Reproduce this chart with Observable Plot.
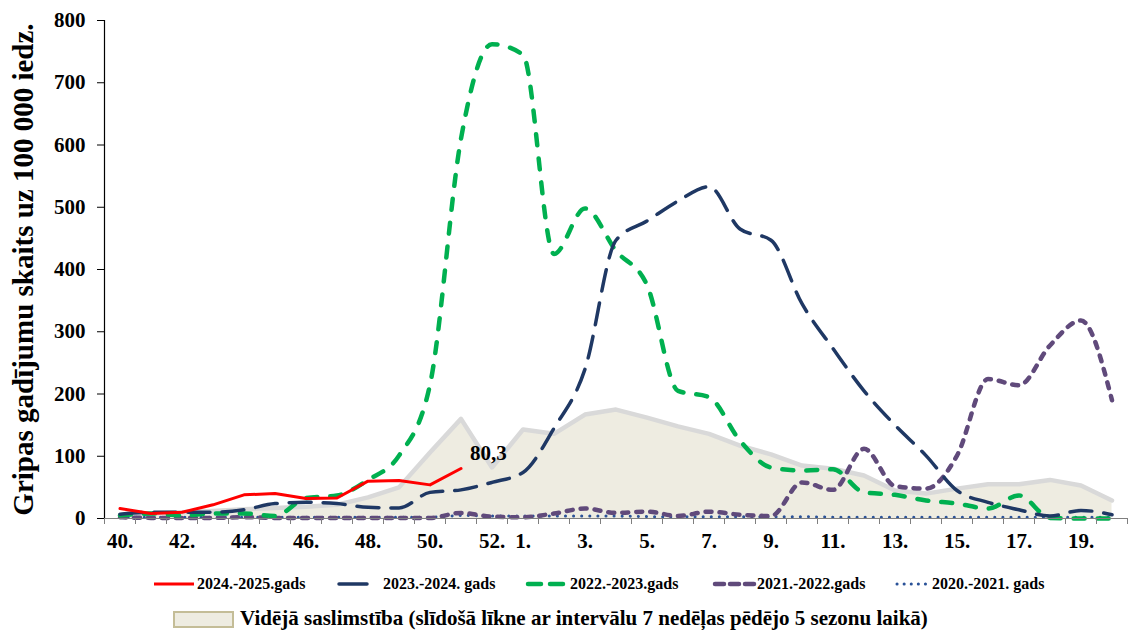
<!DOCTYPE html>
<html><head><meta charset="utf-8">
<script src="https://cdn.jsdelivr.net/npm/d3@7"></script>
<script src="https://cdn.jsdelivr.net/npm/@observablehq/plot@0.6"></script>
<style>
body{margin:0;background:#fff;}
#wrap{position:relative;width:1128px;height:630px;font-family:"Liberation Serif","Times New Roman",serif;font-weight:bold;color:#000;overflow:hidden;}
#chart{position:absolute;left:0;top:0;}
.lg{position:absolute;white-space:nowrap;line-height:1;}
</style></head><body>
<div id="wrap"><div id="chart"></div><div id="legend"></div></div>
<script>
// weeks of the season (index 0..32)
const weeks = [40,41,42,43,44,45,46,47,48,49,50,51,52,1,2,3,4,5,6,7,8,9,10,11,12,13,14,15,16,17,18,19,20];
const tickWeeks = [40,42,44,46,48,50,52,1,3,5,7,9,11,13,15,17,19];
const yTicks = [0,100,200,300,400,500,600,700,800];

const s2024_2025 = [16,8,10,22,38,40,32,33,60,61,54,80.3];
const s2023_2024 = [7,10,10,10,14,24,26,24,18,17,42,46,58,74,145,240,447,478,510,533,465,447,345,273,205,150,101,45,26,14,4,13,6];
const s2022_2023 = [5,8,5,8,8,4,33,37,62,101,215,610,762,745,425,498,430,375,205,195,125,82,77,79,42,38,29,24,16,37,1,0,0];
const s2021_2022 = [2,1,1,1,2,1,1,1,1,1,1,9,3,2,8,16,9,11,4,11,6,4,58,46,112,52,48,101,224,214,278,318,190];
const s2020_2021 = [2,2,2,2,2,2,2,2,2,2,2,5,4,4,4,4,4,3,3,3,3,3,3,2,2,2,2,2,2,2,2,2,2];
const avg5 = [5,8,10,12,15,17,19,22,34,50,106,160,82,143,136,167,175,162,148,136,117,103,85,80,69,45,40,48,55,55,62,53,29];

const labelValue = "80,3";
const legendNames = ["2024.-2025.gads","2023.-2024. gads","2022.-2023.gads","2021.-2022.gads","2020.-2021. gads"];
const avgName = "Vidējā saslimstība (slīdošā līkne ar intervālu 7 nedēļas pēdējo 5 sezonu laikā)";
const yTitle = "Gripas gadījumu skaits uz 100 000 iedz.";

const toRows = arr => arr.map((v,i)=>({i, v}));
const rAvg = toRows(avg5), r24 = toRows(s2024_2025), r23 = toRows(s2023_2024),
      r22 = toRows(s2022_2023), r21 = toRows(s2021_2022), r20 = toRows(s2020_2021);

const boundaries = d3.range(weeks.length + 1).map(k => k - 0.5);
const tickIdx = tickWeeks.map(w => weeks.indexOf(w));

const chart = Plot.plot({
  width: 1128, height: 560,
  marginTop: 20, marginBottom: 42, marginLeft: 104, marginRight: 1,
  style: {fontFamily: '"Liberation Serif","Times New Roman",serif', fontWeight: "bold", fontSize: "21px", color: "#000", background: "#fff", overflow: "visible"},
  x: {type: "linear", domain: [-0.5, weeks.length - 0.5], label: null},
  y: {domain: [0, 800]},
  marks: [
    Plot.areaY(rAvg, {x: "i", y: "v", fill: "#eeece1"}),
    Plot.lineY(rAvg, {x: "i", y: "v", stroke: "#d9d9d9", strokeWidth: 4.5}),
    Plot.lineY(r20, {x: "i", y: "v", stroke: "#2a5298", strokeWidth: 3, strokeDasharray: "0.1,8", strokeLinecap: "round"}),
    Plot.lineY(r21, {x: "i", y: "v", stroke: "#604a7b", strokeWidth: 4.5, strokeDasharray: "6,8", strokeLinecap: "round", curve: "monotone-x"}),
    Plot.lineY(r22, {x: "i", y: "v", stroke: "#00b050", strokeWidth: 4.5, strokeDasharray: "11,13", strokeLinecap: "round", curve: "monotone-x"}),
    Plot.lineY(r23, {x: "i", y: "v", stroke: "#1f3864", strokeWidth: 3.5, strokeDasharray: "22,12", strokeLinecap: "round", curve: "monotone-x"}),
    Plot.lineY(r24, {x: "i", y: "v", stroke: "#ff0000", strokeWidth: 3}),
    Plot.text(r24.slice(-1), {x: "i", y: "v", text: () => labelValue, textAnchor: "start", dx: 9, dy: -15, fontSize: 21, fill: "#000"}),
    Plot.ruleY([0], {stroke: "#7f7f7f", strokeWidth: 1.2}),
    Plot.ruleX([-0.5], {stroke: "#000", strokeWidth: 1.2}),
    Plot.axisX({ticks: boundaries, tickSize: 6, tickFormat: () => "", stroke: "#7f7f7f", label: null}),
    Plot.axisX({ticks: tickIdx, tickSize: 0, tickPadding: 15, tickFormat: i => weeks[i] + ".", fill: "#000", label: null}),
    Plot.axisY({ticks: yTicks, tickSize: 7, tickPadding: 12, fill: "#000", label: null}),
    Plot.axisY({ticks: [], tickSize: 0, label: yTitle, labelAnchor: "center", labelArrow: "none", labelOffset: 92, fontSize: 29, fill: "#000"})
  ]
});
document.getElementById("chart").appendChild(chart);
// enlarge the y-axis title
d3.select(chart).selectAll("text").filter(function(){ return this.textContent === yTitle; }).attr("font-size", 29).style("font-size", "29px");

// legend (HTML below the plot area)
const lg = document.getElementById("legend");
const items = [
  {name: legendNames[0], sx: 154, sw: 40, tx: 197, stroke: "#ff0000", width: 3, dash: null, cap: "butt"},
  {name: legendNames[1], sx: 339, sw: 28, tx: 383, stroke: "#1f3864", width: 3.5, dash: null, cap: "round"},
  {name: legendNames[2], sx: 528, sw: 40, tx: 570, stroke: "#00b050", width: 4.5, dash: "13,9", cap: "round"},
  {name: legendNames[3], sx: 715, sw: 42, tx: 757, stroke: "#604a7b", width: 4.5, dash: "9,6", cap: "round"},
  {name: legendNames[4], sx: 897, sw: 32, tx: 932, stroke: "#2a5298", width: 3, dash: "0.1,7", cap: "round"}
];
items.forEach(it => {
  const s = document.createElementNS("http://www.w3.org/2000/svg", "svg");
  s.setAttribute("width", it.sw + 6); s.setAttribute("height", 10);
  s.style.position = "absolute"; s.style.left = (it.sx - 3) + "px"; s.style.top = "579px";
  const l = document.createElementNS("http://www.w3.org/2000/svg", "line");
  l.setAttribute("x1", 3); l.setAttribute("x2", it.sw + 3); l.setAttribute("y1", 5); l.setAttribute("y2", 5);
  l.setAttribute("stroke", it.stroke); l.setAttribute("stroke-width", it.width);
  l.setAttribute("stroke-linecap", it.cap);
  if (it.dash) l.setAttribute("stroke-dasharray", it.dash);
  s.appendChild(l); lg.appendChild(s);
  const t = document.createElement("div");
  t.className = "lg"; t.textContent = it.name;
  t.style.left = it.tx + "px"; t.style.top = "576px"; t.style.fontSize = "16px";
  lg.appendChild(t);
});
const box = document.createElement("div");
box.style.cssText = "position:absolute;left:173px;top:611px;width:57px;height:13px;background:#eeece1;border:2px solid #c4bd97;";
lg.appendChild(box);
const at = document.createElement("div");
at.className = "lg"; at.textContent = avgName;
at.style.left = "240px"; at.style.top = "607px"; at.style.fontSize = "21px"; at.style.lineHeight = "1.1";
lg.appendChild(at);
</script>
</body></html>
